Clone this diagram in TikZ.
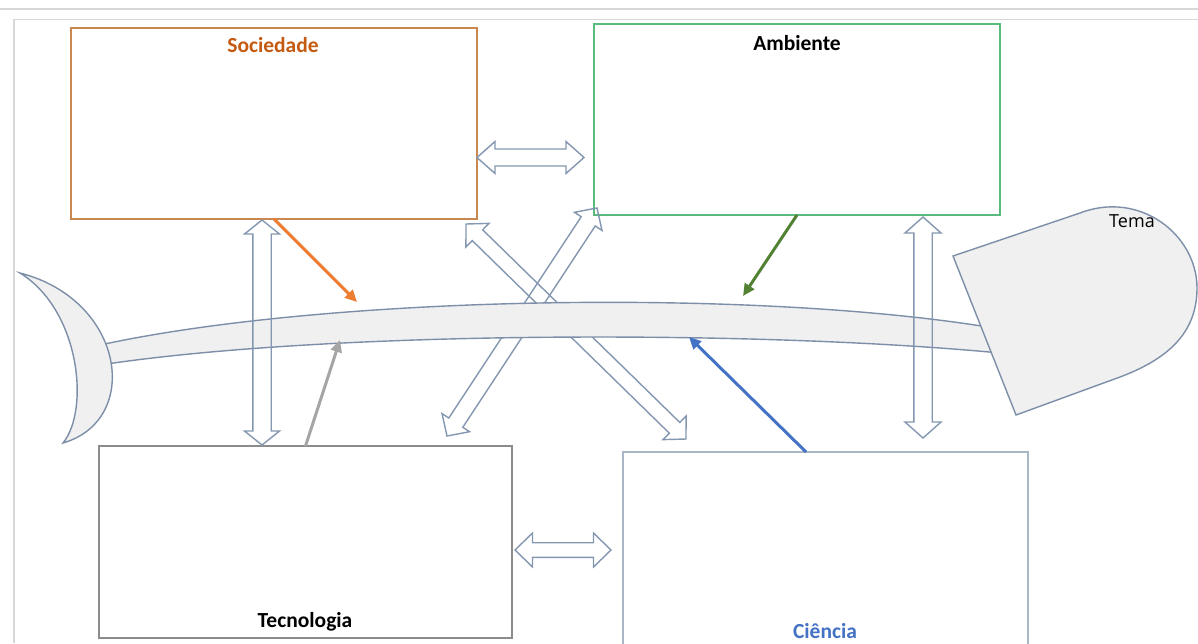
\documentclass[tikz,border=0pt]{standalone}
\usepackage{fontspec}
\setmainfont{Carlito}
\newfontfamily\temafont{Open Sans}
\usetikzlibrary{calc,arrows.meta}

\definecolor{socline}{RGB}{203,135,80}
\definecolor{soctext}{RGB}{197,90,17}
\definecolor{ambline}{RGB}{90,185,125}
\definecolor{tecline}{RGB}{140,140,140}
\definecolor{cieline}{RGB}{170,182,200}
\definecolor{cietext}{RGB}{68,114,196}
\definecolor{fishline}{RGB}{125,143,168}
\definecolor{fishfill}{RGB}{240,240,240}
\definecolor{blockline}{RGB}{132,151,176}
\definecolor{arrorange}{RGB}{237,125,49}
\definecolor{arrgreen}{RGB}{84,130,53}
\definecolor{arrgray}{RGB}{165,165,165}
\definecolor{arrblue}{RGB}{68,114,196}
\definecolor{frameline}{RGB}{215,215,215}

% outlined double block arrow between two tips
% #1,#2 tips, #3 half shaft width, #4 half head width, #5 head length
\newcommand\blockdbl[5]{%
  \coordinate (bh1) at ($(#1)!#5!(#2)$);
  \coordinate (bh2) at ($(#2)!#5!(#1)$);
  \draw[blockarrow] (#1) -- ($(bh1)!#4!90:(#2)$) -- ($(bh1)!#3!90:(#2)$)
    -- ($(bh2)!#3!-90:(#1)$) -- ($(bh2)!#4!-90:(#1)$) -- (#2)
    -- ($(bh2)!#4!90:(#1)$) -- ($(bh2)!#3!90:(#1)$)
    -- ($(bh1)!#3!-90:(#2)$) -- ($(bh1)!#4!-90:(#2)$) -- cycle;
}

\tikzset{
  box/.style={draw, line width=1.5pt, rectangle, inner sep=0pt, outer sep=0pt, anchor=north west},
  lab/.style={font=\fontsize{21.5}{24}\selectfont\bfseries, inner sep=0pt},
  blockarrow/.style={draw=blockline, line width=1.4pt, line join=miter},
  fish/.style={draw=fishline, fill=fishfill, line width=1.4pt},
  pointer/.style={line width=3pt, -{Triangle[length=12pt,width=11pt]}},
  frame/.style={draw=frameline, line width=1.3pt}
}

\begin{document}
\begin{tikzpicture}[x=1pt, y=-1pt]
\useasboundingbox (0,0) rectangle (1198,643);
\fill[white] (0,0) rectangle (1198,643);

% page frame
\draw[frame] (0,9) -- (1198,9);
\draw[frame] (14,643) -- (14,19.5) -- (1198,19.5);

% the four boxes
\node[box, draw=socline, minimum width=406pt, minimum height=191pt] (soc) at (71,28) {};
\node[box, draw=ambline, minimum width=406pt, minimum height=191pt] (amb) at (594,24) {};
\node[box, draw=tecline, minimum width=413pt, minimum height=192pt] (tec) at (99,446) {};
\node[box, draw=cieline, minimum width=405pt, minimum height=200pt] (cie) at (623,452) {};

\node[lab, text=soctext] (socl) at (273,45) {Sociedade};
\node[lab, text=black] (ambl) at (797,43) {Ambiente};
\node[lab, text=black] (tecl) at (305,622) {Tecnologia};
\node[lab, text=cietext] (ciel) at (825,631) {Ciência};

% arrow tips
\coordinate (d1a) at (466,224);
\coordinate (d1b) at (686,439);
\coordinate (d2a) at (447,436);
\coordinate (d2b) at (597,208);
\coordinate (hta) at (477,157.5);
\coordinate (htb) at (584,157.5);
\coordinate (hba) at (515,550);
\coordinate (hbb) at (611,550);
\coordinate (vla) at (262,220);
\coordinate (vlb) at (262,445);
\coordinate (vra) at (923,217);
\coordinate (vrb) at (923,438);

% diagonal links pass beneath the spine
\blockdbl{d1a}{d1b}{7.5pt}{16.5pt}{16pt}
\blockdbl{d2a}{d2b}{8.4pt}{16.5pt}{16pt}

% spine
\path[fish] (100,345) .. controls (330,295) and (760,288) .. (1000,329)
  -- (1000,353) .. controls (760,330) and (330,330) .. (100,365) -- cycle;

% tail
\path[fish] (20,273) .. controls (125,300) and (142,420) .. (63,443)
  .. controls (90,410) and (80,310) .. (20,273) -- cycle;

% head
\path[fish] (1016,415) -- (953,256) -- (1080,213)
  .. controls (1140,190) and (1197,235) .. (1197,288)
  .. controls (1197,335) and (1165,360) .. (1120,377) -- cycle;
\node[font=\temafont\fontsize{18}{20}\selectfont, inner sep=0pt] (tema) at (1132,221) {Tema};

% remaining links
\blockdbl{hta}{htb}{8.5pt}{16pt}{18pt}
\blockdbl{hba}{hbb}{7.3pt}{17pt}{17.5pt}
\blockdbl{vla}{vlb}{9.2pt}{17.5pt}{14pt}
\blockdbl{vra}{vrb}{9.2pt}{18pt}{16pt}

% pointers onto the spine
\coordinate (po) at (357,302);
\coordinate (pg) at (743,296);
\coordinate (pt) at (340,340);
\coordinate (pb) at (689,337);
\coordinate (cs) at ($(cie.north west)!0.452!(cie.north east)$);
\draw[pointer, arrorange] (soc.south) -- (po);
\draw[pointer, arrgreen] (amb.south) -- (pg);
\draw[pointer, arrgray] (tec.north) -- (pt);
\draw[pointer, arrblue] (cs) -- (pb);
\end{tikzpicture}
\end{document}
